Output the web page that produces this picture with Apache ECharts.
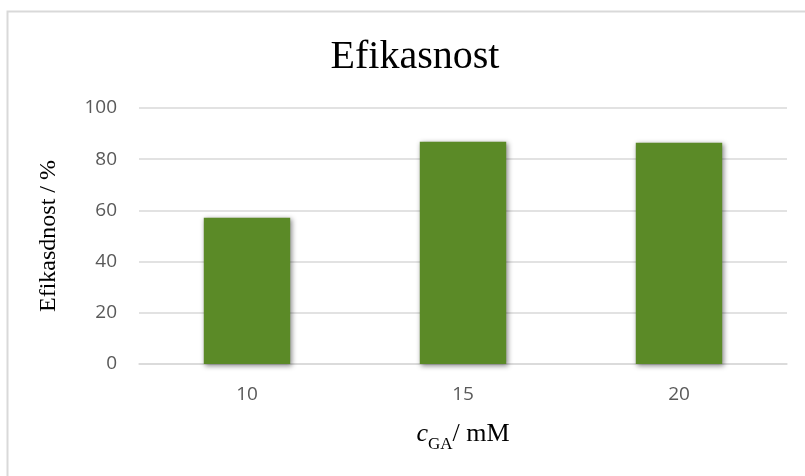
<!DOCTYPE html>
<html>
<head>
<meta charset="utf-8">
<script src="https://cdn.jsdelivr.net/npm/echarts@6/dist/echarts.min.js"></script>
<style>html,body{margin:0;padding:0;background:#fff}#c{width:805px;height:476px}</style>
</head>
<body>
<div id="c"></div>
<script>
const categories = ['10', '15', '20'];
const efikasnost = [57.1, 86.8, 86.4];
const yTicks = [0, 20, 40, 60, 80, 100];

const chart = echarts.init(document.getElementById('c'), null, {renderer: 'canvas'});
chart.setOption({
  animation: false,
  backgroundColor: '#ffffff',
  title: {
    text: 'Efikasnost',
    left: 410, top: 32, textAlign: 'center',
    textStyle: {fontFamily: 'Liberation Serif', fontWeight: 'normal', fontSize: 40, color: '#000'}
  },
  graphic: [{
    type: 'rect', silent: true,
    shape: {x: 7.5, y: 11.5, width: 830, height: 500},
    style: {fill: 'none', stroke: '#d9d9d9', lineWidth: 2}
  }],
  grid: {left: 139, right: 18, top: 108, bottom: 112},
  xAxis: {
    type: 'category',
    data: categories,
    name: '{i|c}{s|GA}{n|/ mM}',
    nameLocation: 'middle',
    nameGap: 57,
    nameTextStyle: {
      rich: {
        i: {fontFamily: 'Liberation Serif', fontStyle: 'italic', fontSize: 26, color: '#000'},
        s: {fontFamily: 'Liberation Serif', fontSize: 17, color: '#000', verticalAlign: 'bottom', padding: [0, 0, -6, 0]},
        n: {fontFamily: 'Liberation Serif', fontSize: 26, color: '#000'}
      }
    },
    axisLine: {show: true, lineStyle: {color: '#d9d9d9', width: 1.5}},
    axisTick: {show: false},
    axisLabel: {fontFamily: 'Open Sans', fontSize: 19, color: '#595959', margin: 21}
  },
  yAxis: {
    type: 'value',
    min: 0, max: 100, interval: 20,
    name: 'Efikasdnost / %',
    nameLocation: 'middle',
    nameGap: 78,
    nameRotate: 90,
    nameTextStyle: {fontFamily: 'Liberation Serif', fontSize: 24, color: '#000'},
    axisLine: {show: false},
    axisTick: {show: false},
    splitLine: {lineStyle: {color: '#d9d9d9', width: 1.5}},
    axisLabel: {
      fontFamily: 'Open Sans', fontSize: 19, color: '#595959', margin: 22,
      formatter: v => yTicks.includes(v) ? String(v) : ''
    }
  },
  series: [{
    type: 'bar',
    data: efikasnost,
    barCategoryGap: '60%',
    itemStyle: {
      color: '#5b8a27',
      shadowColor: 'rgba(0,0,0,0.45)', shadowBlur: 5, shadowOffsetX: 1.5, shadowOffsetY: 1.5
    }
  }]
});
</script>
</body>
</html>
